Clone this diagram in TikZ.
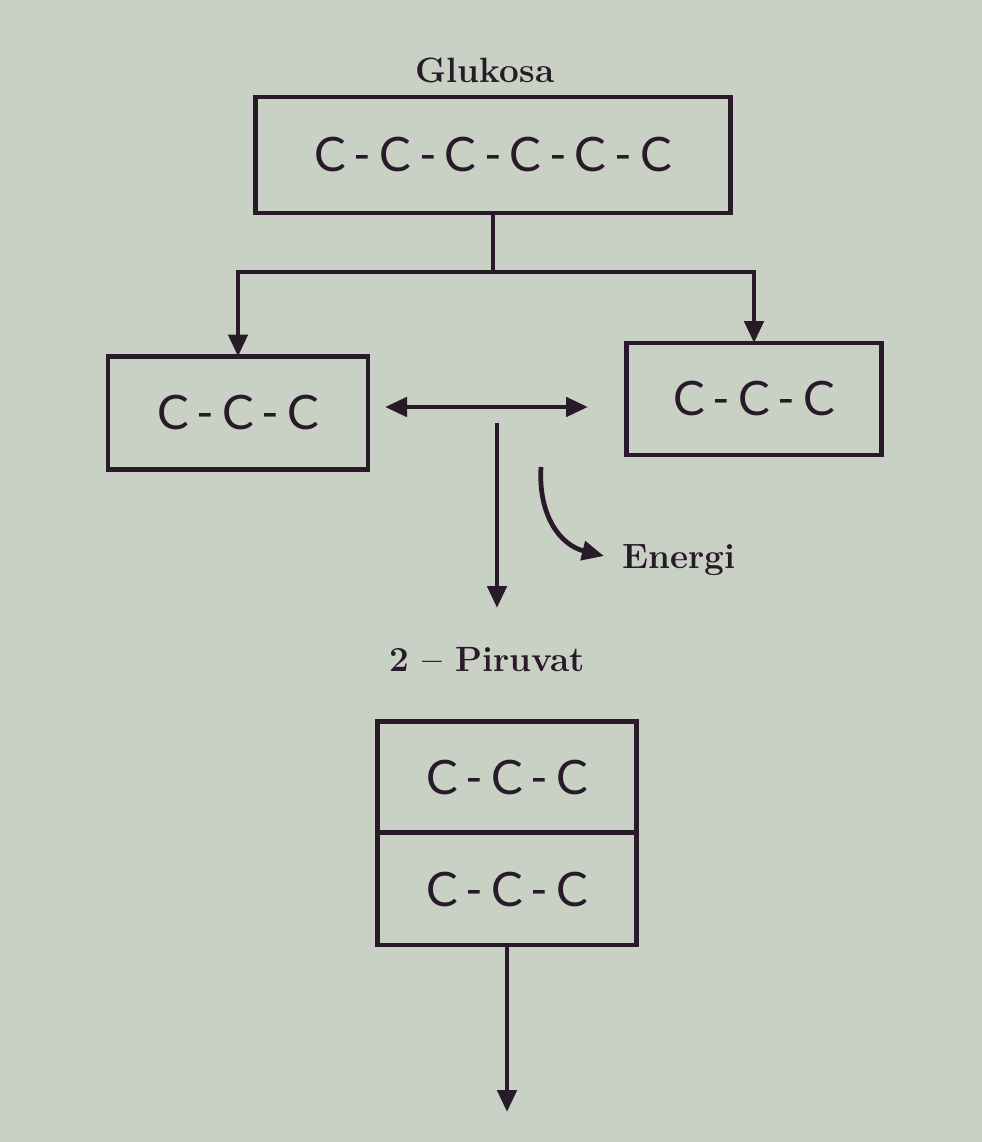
\documentclass[tikz,border=0pt]{standalone}
\usepackage{fontspec}
\usepackage{tikz}
\usetikzlibrary{arrows.meta,positioning}
\newfontfamily\karbon{Lato}
\definecolor{kertas}{RGB}{201,208,196}
\definecolor{tinta}{RGB}{40,26,40}
\begin{document}
\begin{tikzpicture}[x=0.02cm,y=-0.02cm,
  every node/.style={text=tinta,inner sep=0pt},
  kotak/.style={draw=tinta,line width=2.7pt,outer sep=0pt,font=\karbon\fontsize{27}{30}\selectfont},
  judul/.style={font=\fontsize{20}{24}\selectfont\bfseries},
  panah/.style={draw=tinta,line width=2.7pt,-{Triangle[length=0.44cm,width=0.38cm]}}]
  % Latar kertas
  \fill[kertas] (0,0) rectangle (982,1142);
  \useasboundingbox (0,0) rectangle (982,1142);

  % Glukosa
  \node[judul] (jglu) at (485,70) {Glukosa};
  \node[kotak,minimum width=9.5cm,minimum height=2.32cm] (gluk) at (493,155) {C\,-\,C\,-\,C\,-\,C\,-\,C\,-\,C};

  % Dua kotak C-C-C
  \node[kotak,minimum width=5.2cm,minimum height=2.26cm] (kiri) at (238,413) {C\,-\,C\,-\,C};
  \node[kotak,minimum width=5.1cm,minimum height=2.24cm] (kanan) at (754,399) {C\,-\,C\,-\,C};

  % Percabangan dari glukosa
  \coordinate (cab) at (493,272);
  \draw[draw=tinta,line width=2.7pt] (gluk.south) -- (cab);
  \foreach \ke in {kiri,kanan}
    \draw[panah] (cab) -| (\ke.north);

  % Panah bolak-balik dan panah ke bawah
  \coordinate (bbA) at (385,407);
  \coordinate (bbB) at (588,407);
  \draw[panah,{Triangle[length=0.44cm,width=0.38cm]}-{Triangle[length=0.44cm,width=0.38cm]}] (bbA) -- (bbB);
  \coordinate (tA) at (497,423);
  \coordinate (tB) at (497,608);
  \draw[panah] (tA) -- (tB);

  % Energi
  \coordinate (eA) at (541,467);
  \coordinate (eB) at (604,556);
  \node[judul,anchor=west] (energi) at (622,560) {Energi};
  \draw[panah] (eA) .. controls (538,515) and (560,545) .. (eB);

  % 2 - Piruvat
  \node[judul] (jpir) at (487,660) {2 -- Piruvat};
  \node[kotak,minimum width=5.18cm,minimum height=2.22cm] (atas) at (507,777) {C\,-\,C\,-\,C};
  \node[kotak,minimum width=5.18cm,minimum height=2.24cm] (bawah) at (507,889) {C\,-\,C\,-\,C};
  \coordinate (akhir) at (507,1112);
  \draw[panah] (bawah.south) -- (akhir);
\end{tikzpicture}
\end{document}
